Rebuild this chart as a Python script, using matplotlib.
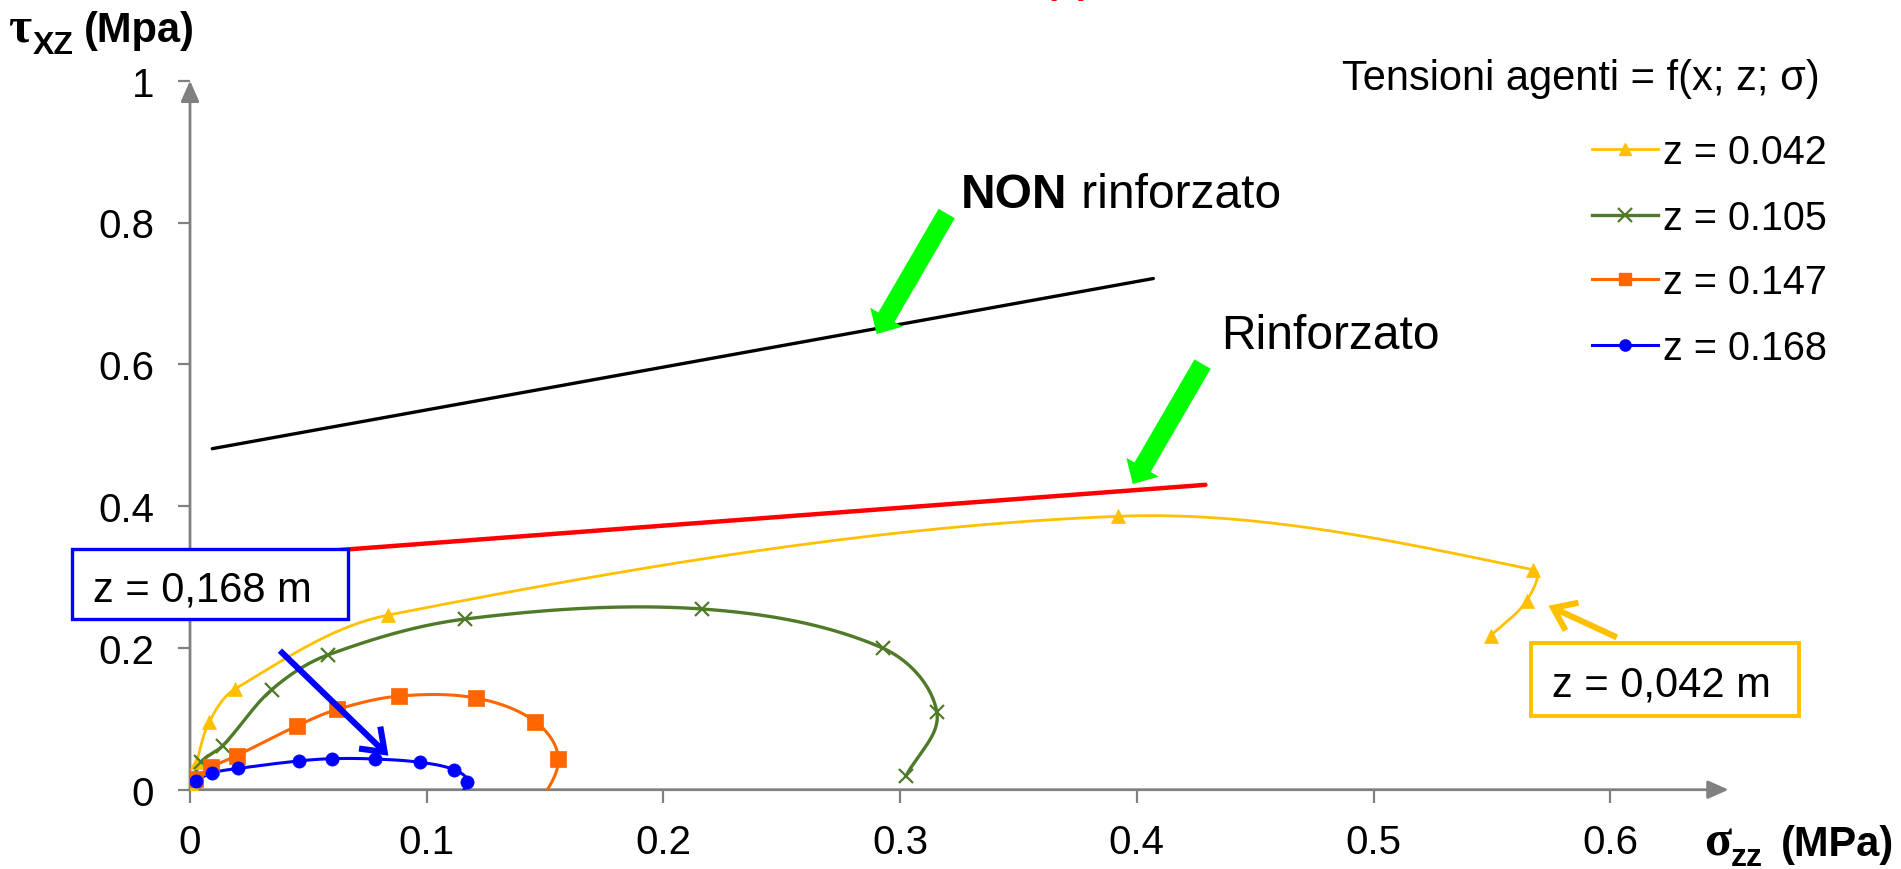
import numpy as np
import matplotlib
matplotlib.use("Agg")
import matplotlib.pyplot as plt
from matplotlib.patches import Rectangle, FancyArrowPatch, ArrowStyle
from matplotlib.lines import Line2D

plt.rcParams['font.family'] = ['Liberation Sans', 'DejaVu Sans']

# ---- data -------------------------------------------------------------
labels = ["z = 0.042", "z = 0.105", "z = 0.147", "z = 0.168"]

sig_042 = [0.0007, 0.0028, 0.0082, 0.0190, 0.0838, 0.3920, 0.5675, 0.5647, 0.5495]
tau_042 = [0.0060, 0.0386, 0.0959, 0.1420, 0.2464, 0.3856, 0.3103, 0.2666, 0.2172]

sig_105 = [0.0015, 0.0045, 0.0138, 0.0345, 0.0582, 0.1162, 0.2162, 0.2926, 0.3155, 0.3025]
tau_105 = [0.0120, 0.0386, 0.0620, 0.1410, 0.1900, 0.2407, 0.2549, 0.1998, 0.1100, 0.0190]

sig_147 = [0.0021, 0.0089, 0.0197, 0.0454, 0.0622, 0.0882, 0.1208, 0.1459, 0.1556, 0.1470]
tau_147 = [0.0151, 0.0316, 0.0480, 0.0903, 0.1133, 0.1320, 0.1293, 0.0959, 0.0433, -0.0250]

sig_168 = [0.0024, 0.0092, 0.0202, 0.0459, 0.0602, 0.0781, 0.0973, 0.1115, 0.1171, 0.1100]
tau_168 = [0.0127, 0.0236, 0.0300, 0.0405, 0.0438, 0.0433, 0.0386, 0.0282, 0.0113, -0.0220]

# limit lines (strength envelopes)
sig_non = [0.0094, 0.4070]
tau_non = [0.4810, 0.7210]
sig_rinf = [0.0100, 0.4290]
tau_rinf = [0.3247, 0.4300]

x_ticks = [0, 0.1, 0.2, 0.3, 0.4, 0.5, 0.6]
x_ticklabels = ["0", "0.1", "0.2", "0.3", "0.4", "0.5", "0.6"]
y_ticks = [0, 0.2, 0.4, 0.6, 0.8, 1.0]
y_ticklabels = ["0", "0.2", "0.4", "0.6", "0.8", "1"]

# ---- styles -----------------------------------------------------------
YEL = "#FFC000"
GRN = "#4F7A28"
ORG = "#FF6600"
BLU = "#0000FF"
AXC = "#808080"
LIME = "#00FF00"

W, H = 1901, 870
x0_px, y0_px = 190, 790.7      # pixel position of the origin
sx, sy = 2367, 709             # pixels per unit on each axis


def fx(px):
    return px / W


def fy(py):
    return 1 - py / H


def smooth(x, y, n=40, k=1 / 3):
    """Bezier smoothing: tangent along neighbour chord, handle length
    proportional to the adjacent segment (computed in screen proportions)."""
    P = np.column_stack([np.asarray(x) * sx, np.asarray(y) * sy])
    m = len(P)
    cout = np.zeros_like(P)
    cin = np.zeros_like(P)
    for i in range(m):
        if 0 < i < m - 1:
            d = P[i + 1] - P[i - 1]
            u = d / np.linalg.norm(d)
            cout[i] = P[i] + u * np.linalg.norm(P[i + 1] - P[i]) * k
            cin[i] = P[i] - u * np.linalg.norm(P[i] - P[i - 1]) * k
    cout[0] = P[0] + (P[1] - P[0]) * k
    cin[-1] = P[-1] - (P[-1] - P[-2]) * k
    t = np.linspace(0, 1, n)[:, None]
    out = []
    for i in range(m - 1):
        p1, c1, c2, p2 = P[i], cout[i], cin[i + 1], P[i + 1]
        seg = ((1 - t) ** 3) * p1 + 3 * ((1 - t) ** 2) * t * c1 \
            + 3 * (1 - t) * t ** 2 * c2 + t ** 3 * p2
        out.append(seg if i == 0 else seg[1:])
    pts = np.vstack(out)
    return pts[:, 0] / sx, pts[:, 1] / sy


fig = plt.figure(figsize=(W / 100, H / 100), dpi=100)
fig.patch.set_facecolor("white")

ax = fig.add_axes([fx(x0_px), fy(y0_px), 0.65 * sx / W, 1.0 * sy / H])
ax.set_xlim(0, 0.65)
ax.set_ylim(0, 1.0)
for s in ax.spines.values():
    s.set_visible(False)

ax.set_xticks(x_ticks)
ax.set_xticklabels(x_ticklabels)
ax.set_yticks(y_ticks)
ax.set_yticklabels(y_ticklabels)
ax.tick_params(axis='both', direction='out', length=9, width=1.6, color=AXC,
               labelsize=29, labelcolor='black')
ax.tick_params(axis='x', pad=15)
ax.tick_params(axis='y', pad=17)

# axis lines with arrow heads
arrow_axis = ArrowStyle('-|>', head_length=0.45, head_width=0.2)
for end in [(1.0, 0), (0, 1.0)]:
    ax.annotate('', xy=end, xytext=(0, 0), xycoords='axes fraction',
                arrowprops=dict(arrowstyle=arrow_axis, color=AXC, lw=2.0,
                                mutation_scale=28, shrinkA=0, shrinkB=0),
                annotation_clip=False, zorder=3)

# envelopes
ax.plot(sig_non, tau_non, color='black', lw=2.4, solid_capstyle='round', zorder=4)
ax.plot(sig_rinf, tau_rinf, color='red', lw=3.2, solid_capstyle='round', zorder=4)

# series
series = [
    (sig_042, tau_042, YEL, '^', 10, 2.0, 0.0),
    (sig_105, tau_105, GRN, 'x', 10, 2.4, 1.6),
    (sig_147, tau_147, ORG, 's', 11, 2.2, 0.0),
    (sig_168, tau_168, BLU, 'o', 9.5, 2.2, 0.0),
]
for xs, ys, c, m, ms, lw, mew in series:
    cx, cy = smooth(xs, ys)
    ax.plot(cx, cy, color=c, lw=lw, zorder=5)
    if m == 'x':
        ax.plot(xs, ys, ls='none', marker=m, ms=ms, mec=c, mew=mew, zorder=6)
    else:
        ax.plot(xs, ys, ls='none', marker=m, ms=ms, mfc=c, mec=c, mew=0.5, zorder=6)

# pointer arrows
green_style = ArrowStyle('simple', head_length=14, head_width=27, tail_width=13.5)
for tail, tip in [((0.3197, 0.8127), (0.2901, 0.6427)),
                  ((0.4278, 0.6003), (0.3983, 0.4311))]:
    ax.add_patch(FancyArrowPatch(tail, tip, arrowstyle=green_style,
                                 mutation_scale=1, color=LIME, lw=0,
                                 shrinkA=0, shrinkB=0, zorder=7, clip_on=False))

line_head = ArrowStyle('->', head_length=15, head_width=11)
ax.add_patch(FancyArrowPatch((0.0380, 0.1961), (0.0838, 0.0480),
                             arrowstyle=line_head, mutation_scale=1, color=BLU,
                             lw=4.4, capstyle='butt', joinstyle='miter',
                             shrinkA=0, shrinkB=0, zorder=7, clip_on=False))
ax.add_patch(FancyArrowPatch((0.6028, 0.2149), (0.5739, 0.2595),
                             arrowstyle=line_head, mutation_scale=1, color=YEL,
                             lw=4.4, capstyle='butt', joinstyle='miter',
                             shrinkA=0, shrinkB=0, zorder=7, clip_on=False))

# annotations
t_non = fig.text(fx(961), fy(208), "NON", fontsize=34.5, fontweight='bold',
                 va='baseline', ha='left')
fig.text(0, 0, " rinforzato", fontsize=34.5, va='bottom', ha='left',
         transform=t_non.get_transform())  # placeholder replaced below
fig.texts[-1].remove()
ax.annotate(" rinforzato", xy=(1, 0), xycoords=t_non, fontsize=34.5,
            va='bottom', ha='left', annotation_clip=False)
fig.text(fx(1221), fy(349), "Rinforzato", fontsize=34.5, va='baseline', ha='left')

fig.add_artist(Rectangle((fx(72), fy(620)), fx(348) - fx(72), fy(550) - fy(620),
                         transform=fig.transFigure, facecolor='white',
                         edgecolor=BLU, lw=2.4, zorder=10))
fig.text(fx(93), fy(602), "z = 0,168 m", fontsize=30, va='baseline', ha='left', zorder=11)

fig.add_artist(Rectangle((fx(1531), fy(717)), fx(1799) - fx(1531), fy(644) - fy(717),
                         transform=fig.transFigure, facecolor='white',
                         edgecolor=YEL, lw=2.8, zorder=10))
fig.text(fx(1552), fy(696), "z = 0,042 m", fontsize=30, va='baseline', ha='left', zorder=11)

# legend
fig.text(fx(1820), fy(90), "Tensioni agenti = f(x; z; σ)", fontsize=30,
         va='baseline', ha='right')
rows_y = [150, 216, 280, 346]
for (xs, ys, c, m, ms, lw, mew), lab, ry in zip(series, labels, rows_y):
    kw = dict(color=c, lw=lw, marker=m, markevery=[1],
              transform=fig.transFigure)
    if m == 'x':
        kw.update(ms=ms, mec=c, mew=mew)
    else:
        kw.update(ms=ms * 0.85, mfc=c, mec=c)
    fig.add_artist(Line2D([fx(1592), fx(1625), fx(1658)], [fy(ry)] * 3, **kw))
    fig.text(fx(1663), fy(ry + 14), lab, fontsize=28.5, va='baseline', ha='left')

# axis titles
fig.text(fx(8), fy(42), "τ", fontsize=36, fontweight='bold',
         family=['Liberation Serif', 'DejaVu Serif'], va='baseline', ha='left')
fig.text(fx(33), fy(54), "XZ", fontsize=23, fontweight='bold', va='baseline', ha='left')
fig.text(fx(84), fy(42), "(Mpa)", fontsize=30, fontweight='bold', va='baseline', ha='left')

fig.text(fx(1704), fy(856), "σ", fontsize=36, fontweight='bold',
         family=['Liberation Serif', 'DejaVu Serif'], va='baseline', ha='left')
fig.text(fx(1731), fy(866), "zz", fontsize=23, fontweight='bold', va='baseline', ha='left')
fig.text(fx(1781), fy(856), "(MPa)", fontsize=30, fontweight='bold', va='baseline', ha='left')

# panel tag sitting just above the top edge
fig.text(fx(1067), fy(-7), "(b)", fontsize=26, fontweight='bold', color='red',
         va='baseline', ha='center')

fig.savefig("out.png", dpi=100, facecolor='white')
